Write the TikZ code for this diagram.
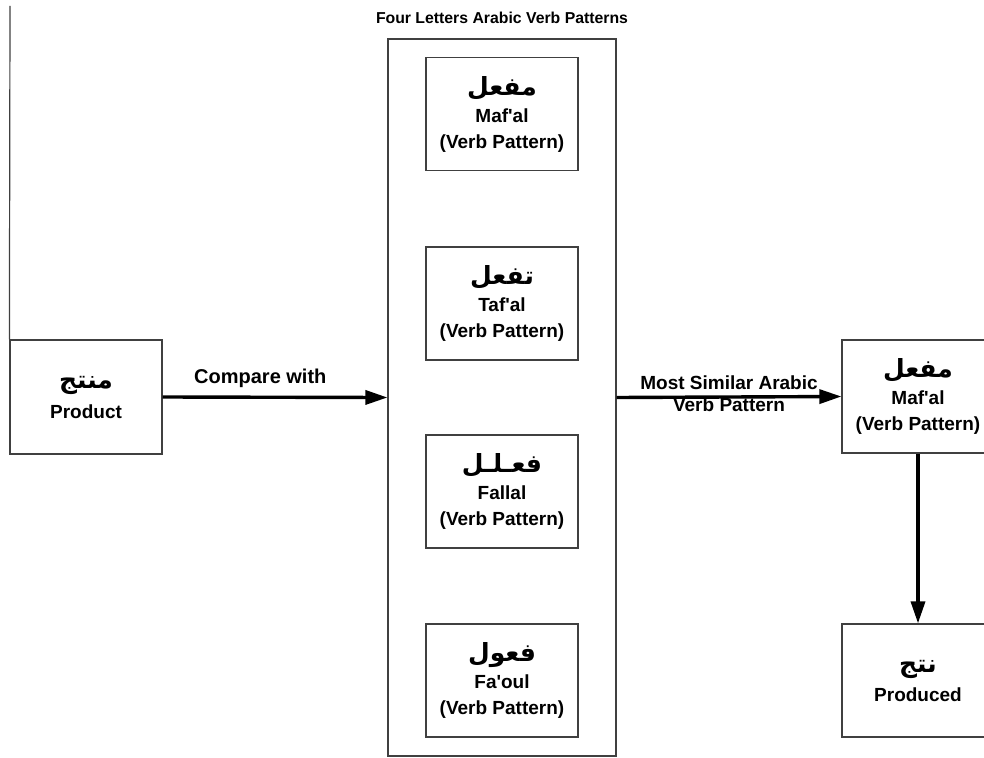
\documentclass[tikz,border=0pt]{standalone}
\usepackage{fontspec}
\setmainfont{Liberation Sans}
\newfontfamily\arabicfont[Script=Arabic]{DejaVu Sans}
\TeXXeTstate=1
\usetikzlibrary{arrows.meta}

\newcommand{\arabicword}[1]{{\arabicfont\bfseries\fontsize{25}{30}\selectfont\beginR #1\endR}}
\newcommand{\apos}{\textquotesingle}

\tikzset{
  patternbox/.style={draw=black!75, line width=1.2pt, minimum width=152pt,
    minimum height=113pt, align=center, inner sep=0pt,
    font=\bfseries\fontsize{19}{26}\selectfont},
  flowarrow/.style={line width=3.4pt, -{Triangle[length=22pt,width=14pt]}},
  flowlabel/.style={font=\bfseries\fontsize{19}{22}\selectfont, align=center, inner sep=0pt}
}

\begin{document}
\begin{tikzpicture}[x=1pt, y=-1pt]
    \useasboundingbox (0,0) rectangle (984,757);

    % Group of verb patterns
    \node[draw=black!75, line width=1.2pt, minimum width=228pt, minimum height=717pt, inner sep=0pt]
        (group) at (502,397.5) {};
    \node[flowlabel, font=\bfseries\fontsize{15.8}{18}\selectfont] (grouptitle) at (502,18)
        {Four Letters Arabic Verb Patterns};

    % The four patterns
    \node[patternbox] (mafal) at (502,114) {\arabicword{مفعل}\\[1pt]Maf\apos al\\(Verb Pattern)};
    \node[patternbox] (tafal) at (502,303.5) {\arabicword{تفعل}\\[1pt]Taf\apos al\\(Verb Pattern)};
    \node[patternbox] (fallal) at (502,491.5) {\arabicword{فعـلـل}\\[1pt]Fallal\\(Verb Pattern)};
    \node[patternbox] (faoul) at (502,680.5) {\arabicword{فعول}\\[1pt]Fa\apos oul\\(Verb Pattern)};

    % Input word
    \node[patternbox, minimum height=114pt] (product) at (86,397) {\arabicword{منتج}\\[4pt]Product};
    \coordinate (topend) at (10,6);
    \draw[black!75, line width=1.2pt] (topend) -- (product.north west);

    % Result
    \node[patternbox] (chosen) at (918,396.5) {\arabicword{مفعل}\\[1pt]Maf\apos al\\(Verb Pattern)};
    \node[patternbox] (produced) at (918,680.5) {\arabicword{نتج}\\[3pt]Produced};

    % Arrows
    \draw[flowarrow] (product.east) -- (group.west);
    \node[flowlabel, font=\bfseries\fontsize{20}{22}\selectfont, anchor=west] (comparelabel) at (194,378) {Compare with};
    \draw[flowarrow] (group.east) -- node[flowlabel, yshift=3pt] {Most Similar Arabic\\Verb Pattern} (chosen.west);
    \draw[flowarrow] (chosen.south) -- (produced.north);
\end{tikzpicture}
\end{document}
